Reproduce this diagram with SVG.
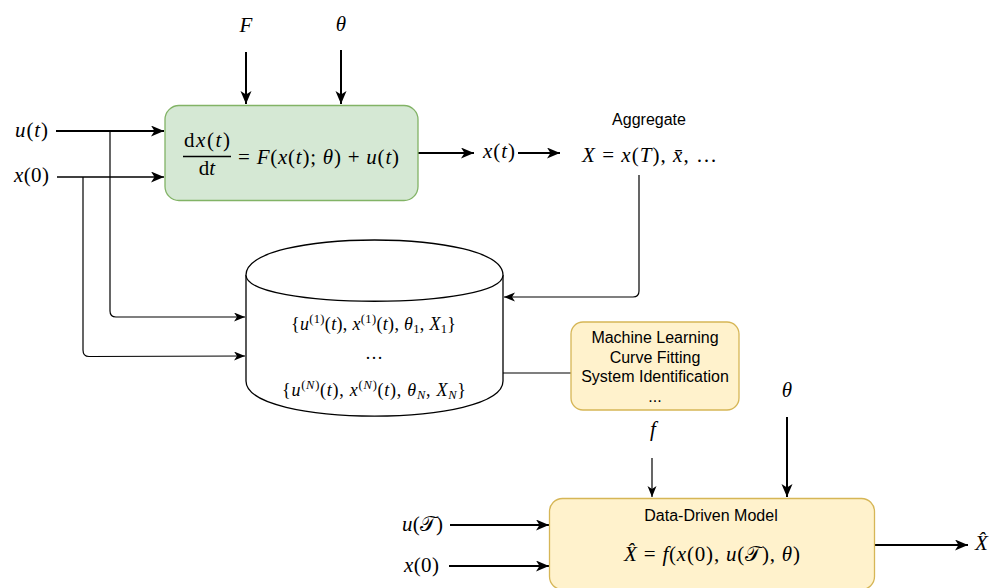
<svg xmlns="http://www.w3.org/2000/svg" width="1001" height="588" viewBox="0 0 1001 588">
  <style>
    .sans { font-family: "Liberation Sans", Arial, Helvetica, sans-serif; font-size: 16px; fill: #000; }
    .math { font-family: "Liberation Serif", "Times New Roman", serif; font-size: 21px; fill: #000; }
    .it { font-style: italic; }
    .cal { font-family: "DejaVu Serif", "DejaVu Sans", "Noto Sans", serif; font-style: normal; }
    .sub { font-size: 12.5px; }
    .set { font-size: 18px; }
    .wire { fill: none; stroke: #000; }
    .thick { stroke-width: 2; }
    .thin { stroke-width: 1.2; }
    .green { fill: #d5e8d4; stroke: #82b366; stroke-width: 1.3; }
    .yellow { fill: #fff2cc; stroke: #d6b656; stroke-width: 1.3; }
    .store { fill: #fff; stroke: #000; stroke-width: 1.3; }
  </style>
  <defs>
    <marker id="arrowBig" markerUnits="userSpaceOnUse" markerWidth="14" markerHeight="12" refX="13" refY="5.5" orient="auto">
      <path d="M0,0 L13,5.5 L0,11 L3.5,5.5 Z" fill="#000"/>
    </marker>
    <marker id="arrowSmall" markerUnits="userSpaceOnUse" markerWidth="12" markerHeight="10" refX="11" refY="4.5" orient="auto">
      <path d="M0,0 L11,4.5 L0,9 L3,4.5 Z" fill="#000"/>
    </marker>
  </defs>

  <!-- connectors -->
  <g id="connectors">
    <path class="wire thick" d="M246,52 L246,104" marker-end="url(#arrowBig)"/>
    <path class="wire thick" d="M341,50 L341,104" marker-end="url(#arrowBig)"/>
    <path class="wire thick" d="M56,131 L164,131" marker-end="url(#arrowBig)"/>
    <path class="wire" stroke-width="1.6" d="M57,177 L164,177" marker-end="url(#arrowBig)"/>
    <path class="wire thin" d="M110,131 L110,311 Q110,317 116,317 L245,317" marker-end="url(#arrowSmall)"/>
    <path class="wire thin" d="M83,177 L83,350 Q83,356.5 89,356.5 L245,356" marker-end="url(#arrowSmall)"/>
    <path class="wire thick" d="M418,153 L474,153" marker-end="url(#arrowBig)"/>
    <path class="wire thick" d="M518,153 L560,153" marker-end="url(#arrowBig)"/>
    <path class="wire thin" d="M639,175 L639,291 Q639,297 633,297 L504,297" marker-end="url(#arrowSmall)"/>
    <path class="wire thin" d="M503,373 L571,373"/>
    <path class="wire thin" d="M652,458 L652,497" marker-end="url(#arrowSmall)"/>
    <path class="wire thick" d="M787,417 L787,497" marker-end="url(#arrowBig)"/>
    <path class="wire thick" d="M450,525 L549,525" marker-end="url(#arrowBig)"/>
    <path class="wire thick" d="M449,566 L549,566" marker-end="url(#arrowBig)"/>
    <path class="wire thick" d="M874,545 L968,545" marker-end="url(#arrowBig)"/>
  </g>

  <!-- free labels -->
  <g id="labels">
    <text class="math it" x="246" y="32" text-anchor="middle">F</text>
    <text class="math it" x="341" y="31" text-anchor="middle">θ</text>
    <text class="math" x="15" y="137" textLength="33" lengthAdjust="spacing"><tspan class="it">u</tspan>(<tspan class="it">t</tspan>)</text>
    <text class="math" x="14" y="182" textLength="35" lengthAdjust="spacing"><tspan class="it">x</tspan>(0)</text>
    <text class="math" x="483" y="158" textLength="32" lengthAdjust="spacing"><tspan class="it">x</tspan>(<tspan class="it">t</tspan>)</text>
    <text class="math it" x="653" y="436" text-anchor="middle">f</text>
    <text class="math it" x="787" y="397" text-anchor="middle">θ</text>
    <text class="math" x="402" y="531" textLength="41" lengthAdjust="spacing"><tspan class="it">u</tspan>(<tspan class="cal">𝒯</tspan>)</text>
    <text class="math" x="404" y="572" textLength="35" lengthAdjust="spacing"><tspan class="it">x</tspan>(0)</text>
    <text class="math it" x="975" y="550">X̂</text>
  </g>

  <!-- ODE block -->
  <g id="ode">
    <rect class="green" x="165" y="105.5" width="253" height="95" rx="14" ry="14"/>
    <text class="math" x="184" y="147" textLength="46" lengthAdjust="spacing">d<tspan class="it">x</tspan>(<tspan class="it">t</tspan>)</text>
    <line x1="183" y1="156.5" x2="231" y2="156.5" stroke="#000" stroke-width="1.3"/>
    <text class="math" x="207" y="175" text-anchor="middle">d<tspan class="it">t</tspan></text>
    <text class="math" x="238" y="164" textLength="161" lengthAdjust="spacing">= <tspan class="it">F</tspan>(<tspan class="it">x</tspan>(<tspan class="it">t</tspan>); <tspan class="it">θ</tspan>) + <tspan class="it">u</tspan>(<tspan class="it">t</tspan>)</text>
  </g>

  <!-- aggregate -->
  <g id="aggregate">
    <text class="sans" x="649" y="125" text-anchor="middle">Aggregate</text>
    <text class="math" x="582" y="162" textLength="135" lengthAdjust="spacing"><tspan class="it">X</tspan> = <tspan class="it">x</tspan>(<tspan class="it">T</tspan>), <tspan class="it">x̄</tspan>, …</text>
  </g>

  <!-- dataset store -->
  <g id="dataset">
    <path class="store" d="M246,275 C246,228.3 503,228.3 503,275 L503,381 C503,427.7 246,427.7 246,381 Z"/>
    <path class="store" fill="none" d="M246,275 C246,310 503,310 503,275"/>
    <text class="math set" x="291" y="330" textLength="165" lengthAdjust="spacing">{<tspan class="it">u</tspan><tspan class="sub" dy="-7">(1)</tspan><tspan dy="7">(</tspan><tspan class="it">t</tspan>), <tspan class="it">x</tspan><tspan class="sub" dy="-7">(1)</tspan><tspan dy="7">(</tspan><tspan class="it">t</tspan>), <tspan class="it">θ</tspan><tspan class="sub" dy="3">1</tspan><tspan dy="-3">, </tspan><tspan class="it">X</tspan><tspan class="sub" dy="3">1</tspan><tspan dy="-3">}</tspan></text>
    <text class="math set" x="374" y="359" text-anchor="middle">…</text>
    <text class="math set" x="282" y="396" textLength="184" lengthAdjust="spacing">{<tspan class="it">u</tspan><tspan class="sub" dy="-7">(<tspan class="it">N</tspan>)</tspan><tspan dy="7">(</tspan><tspan class="it">t</tspan>), <tspan class="it">x</tspan><tspan class="sub" dy="-7">(<tspan class="it">N</tspan>)</tspan><tspan dy="7">(</tspan><tspan class="it">t</tspan>), <tspan class="it">θ</tspan><tspan class="sub it" dy="3">N</tspan><tspan dy="-3">, </tspan><tspan class="it">X</tspan><tspan class="sub it" dy="3">N</tspan><tspan dy="-3">}</tspan></text>
  </g>

  <!-- learning methods -->
  <g id="methods">
    <rect class="yellow" x="571" y="322" width="168" height="88" rx="12" ry="12"/>
    <text class="sans" x="655" y="343" text-anchor="middle">Machine Learning</text>
    <text class="sans" x="655" y="362.5" text-anchor="middle">Curve Fitting</text>
    <text class="sans" x="655" y="382" text-anchor="middle">System Identification</text>
    <text class="sans" x="655" y="401.5" text-anchor="middle">...</text>
  </g>

  <!-- surrogate model -->
  <g id="model">
    <rect class="yellow" x="549.5" y="498.5" width="325" height="91" rx="13" ry="13"/>
    <text class="sans" x="711" y="521" text-anchor="middle">Data-Driven Model</text>
    <text class="math" x="624" y="561" textLength="176" lengthAdjust="spacing"><tspan class="it">X̂</tspan> = <tspan class="it">f</tspan>(<tspan class="it">x</tspan>(0), <tspan class="it">u</tspan>(<tspan class="cal">𝒯</tspan>), <tspan class="it">θ</tspan>)</text>
  </g>
</svg>
